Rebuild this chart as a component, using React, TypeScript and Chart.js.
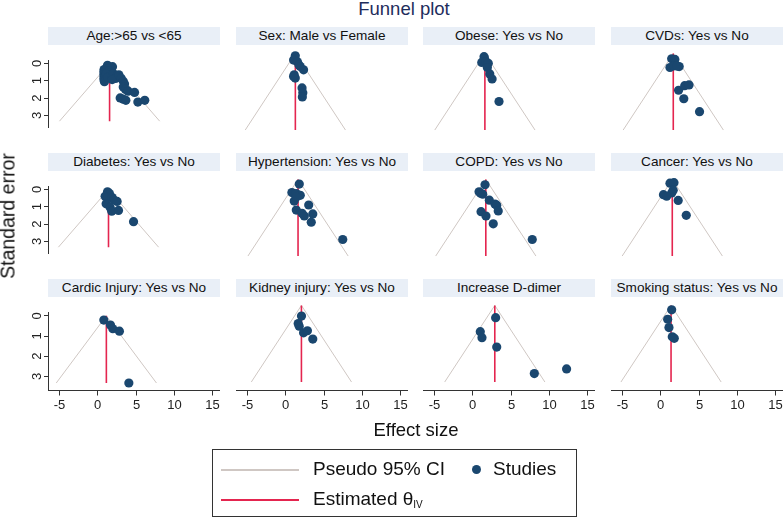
import React, { useEffect, useRef } from "react";
import { Chart, registerables } from "chart.js";

Chart.register(...registerables);

// ---------- data ----------
const panelTitles = [
  "Age:>65 vs <65",
  "Sex: Male vs Female",
  "Obese: Yes vs No",
  "CVDs: Yes vs No",
  "Diabetes: Yes vs No",
  "Hypertension: Yes vs No",
  "COPD: Yes vs No",
  "Cancer: Yes vs No",
  "Cardic Injury: Yes vs No",
  "Kidney injury: Yes vs No",
  "Increase D-dimer",
  "Smoking status: Yes vs No",
];

// estimated theta (IV) per panel
const thetaIV = [1.62, 1.33, 1.66, 1.71, 1.48, 1.68, 1.78, 1.58, 1.2, 2.12, 2.95, 1.42];
const maxSE = 3.33;

const xTicks = [-5, 0, 5, 10, 15];
const yTicks = [0, 1, 2, 3];

// [effect size, standard error]
const agePoints = [
  [1.35, 0.11], [2.0, 0.19], [1.3, 0.3], [0.9, 0.35], [0.9, 0.45], [0.9, 0.55], [0.9, 0.65],
  [0.9, 0.75], [0.9, 0.85], [0.9, 0.95], [0.95, 1.05], [1.6, 0.44], [1.7, 0.55], [1.2, 0.6],
  [1.4, 0.8], [2.13, 0.59], [2.6, 0.73], [2.4, 0.87], [1.96, 0.93], [2.83, 0.66], [3.13, 0.86],
  [3.4, 1.03], [3.57, 1.19], [3.4, 1.36], [3.7, 1.5], [4.04, 1.6], [4.87, 1.67], [3.0, 1.99],
  [3.4, 2.06], [3.74, 2.13], [5.3, 2.23], [6.2, 2.13],
];
const sexPoints = [
  [1.32, 0.1], [1.1, 0.29], [1.6, 0.36], [1.8, 0.5], [1.97, 0.57], [2.4, 0.71], [1.18, 0.93],
  [1.32, 1.07], [1.1, 1.0], [2.2, 1.5], [2.3, 1.71], [2.24, 1.89],
];
const obesePoints = [
  [1.55, 0.14], [1.6, 0.22], [1.25, 0.39], [1.8, 0.36], [2.1, 0.43], [1.98, 0.61], [2.3, 0.89],
  [2.6, 1.11], [3.5, 2.09],
];
const cvdPoints = [
  [1.5, 0.23], [1.92, 0.26], [1.28, 0.61], [1.8, 0.54], [2.48, 0.57], [2.2, 0.55], [2.4, 1.6],
  [3.2, 1.4], [3.76, 1.37], [3.08, 1.97], [5.13, 2.53],
];
const diabetesPoints = [
  [1.35, 0.14], [1.6, 0.23], [1.04, 0.4], [1.35, 0.47], [1.96, 0.47], [2.17, 0.61], [2.6, 0.69],
  [1.17, 0.83], [1.7, 1.04], [1.9, 1.26], [2.78, 1.21], [4.74, 1.86],
];
const hypertensionPoints = [
  [1.84, 0.2], [0.88, 0.57], [1.45, 0.61], [1.97, 0.69], [1.18, 0.94], [1.45, 0.76], [1.45, 1.33],
  [2.2, 1.47], [2.5, 1.59], [3.07, 1.11], [3.6, 1.5], [3.4, 1.86], [7.5, 2.61],
];
const copdPoints = [
  [1.68, 0.23], [0.9, 0.54], [1.1, 0.6], [1.38, 0.64], [2.24, 0.9], [2.97, 1.07], [3.2, 1.12],
  [3.4, 1.37], [1.16, 1.4], [1.8, 1.59], [2.75, 1.93], [7.83, 2.61],
];
const cancerPoints = [
  [1.28, 0.16], [1.8, 0.14], [1.7, 0.47], [1.5, 0.59], [0.43, 0.66], [0.85, 0.73], [2.35, 0.91],
  [3.4, 1.56],
];
const cardicPoints = [[0.87, 0.21], [1.74, 0.46], [2.04, 0.64], [2.9, 0.76], [4.13, 3.33]];
const kidneyPoints = [[2.13, 0.46], [1.7, 0.79], [1.83, 0.9], [2.4, 1.19], [2.9, 1.1], [3.6, 1.46]];
const ddimerPoints = [[3.06, 0.53], [1.06, 1.14], [1.28, 1.4], [3.2, 1.81], [8.1, 2.96], [12.3, 2.76]];
const smokingPoints = [[1.5, 0.19], [0.98, 0.6], [1.15, 0.96], [1.58, 1.36], [1.84, 1.43]];

const panelPoints = [
  agePoints, sexPoints, obesePoints, cvdPoints,
  diabetesPoints, hypertensionPoints, copdPoints, cancerPoints,
  cardicPoints, kidneyPoints, ddimerPoints, smokingPoints,
];

// ---------- styling / layout ----------
const FONT = "'Liberation Sans', Arial, Helvetica, sans-serif";
const NAVY = "#1a476f";
const RED = "#e4254f";
const GREY = "#cfc7c3";
const AXIS = "#333333";
const HEADER_BG = "#e9eff7";

const COL_LEFT = [48, 236, 423, 611];
const ROW_TOP = [50, 176, 302];
const PLOT_W = 172;
const PLOT_H = 88;
const Y_AXIS_W = 30;
const X_AXIS_H = 30;
const XMIN = -6.4;
const XMAX = 16;
const YMIN = -0.15;
const YMAX = YMIN + PLOT_H / 23;

// draws the bottom axis line, tick marks and tick labels from the chart's own x scale
const bottomAxisPlugin = {
  id: "bottomAxis",
  afterDraw(chart: any) {
    const { ctx, chartArea, scales } = chart;
    const xs = scales.x;
    const y = Math.round(chartArea.bottom) + 0.5;
    ctx.save();
    ctx.strokeStyle = AXIS;
    ctx.lineWidth = 1;
    ctx.beginPath();
    ctx.moveTo(chartArea.left, y);
    ctx.lineTo(chartArea.right, y);
    ctx.stroke();
    ctx.font = `13px ${FONT}`;
    ctx.fillStyle = "#222";
    ctx.textAlign = "center";
    ctx.textBaseline = "top";
    xTicks.forEach((v) => {
      const px = Math.round(xs.getPixelForValue(v)) + 0.5;
      ctx.beginPath();
      ctx.moveTo(px, y);
      ctx.lineTo(px, y + 5);
      ctx.stroke();
      ctx.fillText(String(v), px, y + 8);
    });
    ctx.restore();
  },
};

function Panel({ idx }: { idx: number }) {
  const ref = useRef<HTMLCanvasElement>(null);
  const r = Math.floor(idx / 4);
  const c = idx % 4;
  const showY = c === 0;
  const showX = r === 2;
  const cw = PLOT_W + (showY ? Y_AXIS_W : 0);
  const ch = PLOT_H + (showX ? X_AXIS_H : 0);

  useEffect(() => {
    const theta = thetaIV[idx];
    const yOpts: any = showY
      ? {
          reverse: true,
          min: YMIN,
          max: YMAX,
          afterFit: (s: any) => { s.width = Y_AXIS_W; },
          afterBuildTicks: (s: any) => { s.ticks = yTicks.map((v) => ({ value: v })); },
          grid: { drawOnChartArea: false, tickLength: 4, color: AXIS },
          border: { color: AXIS },
          ticks: {
            font: { family: FONT, size: 13 },
            color: "#222",
            padding: 3,
            minRotation: 90,
            maxRotation: 90,
            crossAlign: "center",
          },
        }
      : { reverse: true, min: YMIN, max: YMAX, display: false };

    const chart = new Chart(ref.current as HTMLCanvasElement, {
      type: "scatter",
      data: {
        datasets: [
          {
            data: panelPoints[idx].map(([x, y]) => ({ x, y })),
            pointRadius: 4.6,
            pointBackgroundColor: NAVY,
            pointBorderWidth: 0,
            clip: false,
          },
          {
            data: [{ x: theta, y: 0 }, { x: theta, y: maxSE }],
            showLine: true,
            borderColor: RED,
            borderWidth: 1.6,
            pointRadius: 0,
            clip: false,
          },
          {
            data: [
              { x: theta - 1.96 * maxSE, y: maxSE },
              { x: theta, y: 0 },
              { x: theta + 1.96 * maxSE, y: maxSE },
            ],
            showLine: true,
            borderColor: GREY,
            borderWidth: 1,
            pointRadius: 0,
            clip: false,
          },
        ],
      },
      options: {
        animation: false,
        responsive: false,
        events: [],
        layout: { padding: { left: 0, right: 0, top: 0, bottom: showX ? X_AXIS_H : 0 }, autoPadding: false },
        plugins: { legend: { display: false }, tooltip: { enabled: false } },
        scales: {
          x: { min: XMIN, max: XMAX, display: false },
          y: yOpts,
        },
      },
      plugins: showX ? [bottomAxisPlugin] : [],
    } as any);
    return () => chart.destroy();
  }, [idx]);

  return (
    <>
      <div
        style={{
          position: "absolute",
          left: COL_LEFT[c],
          top: ROW_TOP[r] - 23,
          width: PLOT_W,
          height: 18,
          background: HEADER_BG,
          color: "#111",
          fontSize: 13.6,
          lineHeight: "18px",
          textAlign: "center",
          whiteSpace: "nowrap",
        }}
      >
        {panelTitles[idx]}
      </div>
      <canvas
        ref={ref}
        width={cw}
        height={ch}
        style={{
          position: "absolute",
          left: COL_LEFT[c] - (showY ? Y_AXIS_W : 0),
          top: ROW_TOP[r],
        }}
      />
    </>
  );
}

export default function App() {
  return (
    <div
      style={{
        position: "absolute",
        left: 0,
        top: 0,
        width: 784,
        height: 519,
        background: "#ffffff",
        fontFamily: FONT,
        overflow: "hidden",
      }}
    >
      <div
        style={{
          position: "absolute",
          left: 404,
          top: -2,
          transform: "translateX(-50%)",
          fontSize: 18.5,
          color: "#1e2d5c",
          whiteSpace: "nowrap",
        }}
      >
        Funnel plot
      </div>

      {panelTitles.map((_, i) => (
        <Panel key={i} idx={i} />
      ))}

      <div
        style={{
          position: "absolute",
          left: 8,
          top: 216,
          transform: "translate(-50%, -50%) rotate(-90deg)",
          fontSize: 19.5,
          color: "#111",
          whiteSpace: "nowrap",
        }}
      >
        Standard error
      </div>

      <div
        style={{
          position: "absolute",
          left: 416,
          top: 419,
          transform: "translateX(-50%)",
          fontSize: 18.5,
          color: "#111",
          whiteSpace: "nowrap",
        }}
      >
        Effect size
      </div>

      <div
        style={{
          position: "absolute",
          left: 212,
          top: 449,
          width: 365,
          height: 68,
          border: "1px solid #333",
          boxSizing: "border-box",
        }}
      >
        <div style={{ position: "absolute", left: 8, top: 19, width: 78, height: 2, background: GREY }} />
        <div
          style={{ position: "absolute", left: 100, top: 8, fontSize: 19, lineHeight: "22px", color: "#111", whiteSpace: "nowrap" }}
        >
          Pseudo 95% CI
        </div>
        <div
          style={{ position: "absolute", left: 259, top: 15, width: 9, height: 9, borderRadius: "50%", background: NAVY }}
        />
        <div
          style={{ position: "absolute", left: 280, top: 8, fontSize: 19, lineHeight: "22px", color: "#111", whiteSpace: "nowrap" }}
        >
          Studies
        </div>
        <div style={{ position: "absolute", left: 8, top: 49, width: 78, height: 2, background: RED }} />
        <div
          style={{ position: "absolute", left: 100, top: 38, fontSize: 19, lineHeight: "22px", color: "#111", whiteSpace: "nowrap" }}
        >
          Estimated θ<span style={{ fontSize: 10, verticalAlign: "-3px" }}>IV</span>
        </div>
      </div>
    </div>
  );
}
